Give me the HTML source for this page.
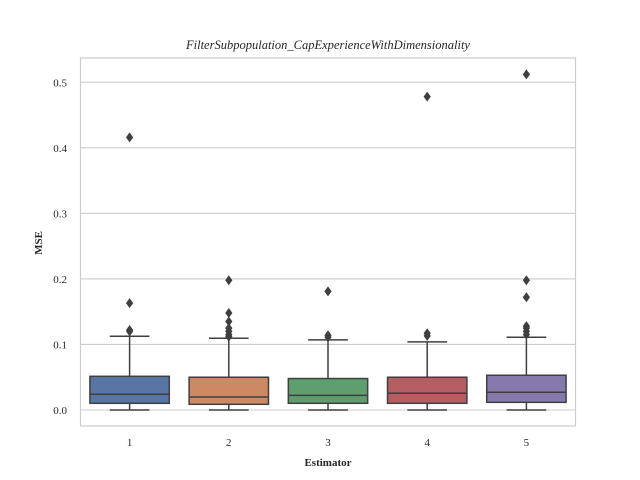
<!DOCTYPE html>
<html><head><meta charset="utf-8"><style>
body{margin:0;background:#fff;}
svg{display:block;font-family:"Liberation Serif",serif;}
</style></head><body>
<svg id="chart" width="640" height="480">
<rect x="0" y="0" width="640" height="480" fill="#fff"/>
<g id="grid"></g>
<g id="boxes"></g>
<rect x="80.5" y="58" width="495" height="368" fill="none" stroke="#cccccc" stroke-width="1.2"/>
<g id="yticks"></g>
<g id="xticks"></g>
<text x="328" y="49" text-anchor="middle" font-size="12.5" font-style="italic" fill="#262626">FilterSubpopulation_CapExperienceWithDimensionality</text>
<text x="328" y="466" text-anchor="middle" font-size="11" font-weight="bold" fill="#262626">Estimator</text>
<text x="42" y="243" text-anchor="middle" font-size="11" font-weight="bold" fill="#262626" transform="rotate(-90 42 243)">MSE</text>
</svg>
<script>
const categories=["1","2","3","4","5"];
const q1=[0.0102,0.0087,0.0102,0.0102,0.0117];
const medians=[0.024,0.0198,0.0224,0.0255,0.027];
const q3=[0.0514,0.050,0.048,0.050,0.053];
const whiskLo=[0,0,0,0,0];
const whiskHi=[0.1125,0.1095,0.107,0.104,0.111];
const outliers=[[0.12,0.122,0.163,0.416],[0.112,0.115,0.12,0.125,0.135,0.148,0.198],[0.111,0.114,0.181],[0.113,0.117,0.478],[0.115,0.12,0.125,0.128,0.172,0.198,0.512]];
const yTicks=[0,0.1,0.2,0.3,0.4,0.5];
const yTickLabels=["0.0","0.1","0.2","0.3","0.4","0.5"];
const colors=["#5975a4","#cc8963","#5f9e6e","#b55d60","#857aab"];

const NS="http://www.w3.org/2000/svg";
const L=80,R=576,T=58,B=426,yMin=-0.0244,yMax=0.537;
const band=(R-L)/categories.length;
function x(i){return L+band*(i+0.5);}
function y(v){return B-(v-yMin)/(yMax-yMin)*(B-T);}
function mk(tag,attrs,parent){const e=document.createElementNS(NS,tag);for(const k in attrs)e.setAttribute(k,attrs[k]);parent.appendChild(e);return e;}
const grid=document.getElementById('grid'),yt=document.getElementById('yticks'),xt=document.getElementById('xticks'),bx=document.getElementById('boxes');
yTicks.forEach((t,i)=>{
  const g=mk('line',{x1:L,x2:R,y1:y(t),y2:y(t),stroke:'#cccccc','stroke-width':1.1},grid);
  
  
  const tx=mk('text',{x:L-13,y:y(t)+4,'text-anchor':'end','font-size':11,fill:'#262626'},yt);
  tx.textContent=yTickLabels[i];
  
  
});
categories.forEach((c,i)=>{
  const tx=mk('text',{x:x(i),y:y(yMin)+20,'text-anchor':'middle','font-size':11,fill:'#262626'},xt);
  tx.textContent=c;
  
  
  const g=mk('g',{},bx);
  
  
  const cx=x(i),hw=band*0.4,cw=band*0.2,st='#3f3f3f';
  mk('line',{x1:cx,x2:cx,y1:y(q3[i]),y2:y(whiskHi[i]),stroke:st,'stroke-width':1.5},g);
  mk('line',{x1:cx,x2:cx,y1:y(q1[i]),y2:y(whiskLo[i]),stroke:st,'stroke-width':1.5},g);
  mk('line',{x1:cx-cw,x2:cx+cw,y1:y(whiskHi[i]),y2:y(whiskHi[i]),stroke:st,'stroke-width':1.5},g);
  mk('line',{x1:cx-cw,x2:cx+cw,y1:y(whiskLo[i]),y2:y(whiskLo[i]),stroke:st,'stroke-width':1.5},g);
  mk('rect',{x:cx-hw,y:y(q3[i]),width:2*hw,height:y(q1[i])-y(q3[i]),fill:colors[i],stroke:st,'stroke-width':1.5},g);
  mk('line',{x1:cx-hw,x2:cx+hw,y1:y(medians[i]),y2:y(medians[i]),stroke:st,'stroke-width':1.5},g);
  outliers[i].forEach(v=>{
    const yy=y(v);
    const p=mk('polygon',{points:`${cx},${yy-5} ${cx+3.6},${yy} ${cx},${yy+5} ${cx-3.6},${yy}`,fill:st},g);
    
    
  });
});
</script>
</body></html>
